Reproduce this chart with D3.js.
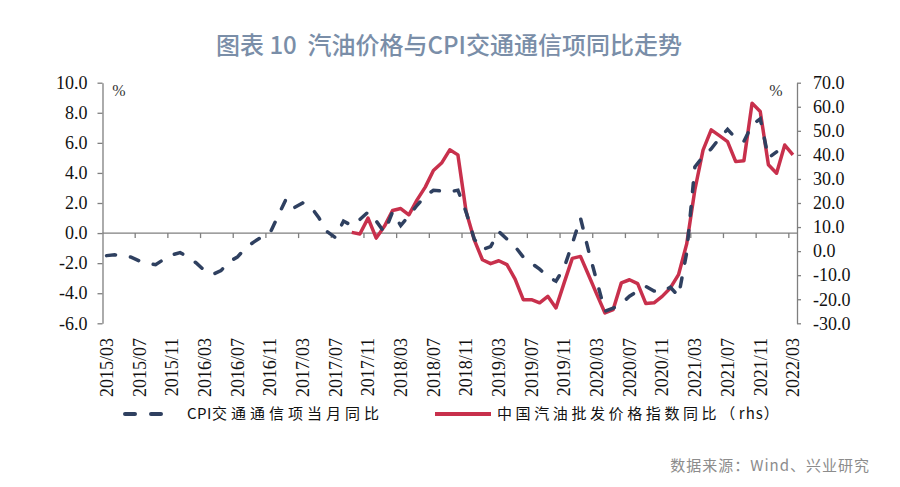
<!DOCTYPE html>
<html>
<head>
<meta charset="utf-8">
<script src="https://cdn.jsdelivr.net/npm/d3@7"></script>
<style>
  body { margin: 0; background: #fff; }
  svg { display: block; }
</style>
</head>
<body>
<svg id="chart" width="900" height="487"></svg>
<script>
// 图表10 汽油价格与CPI交通通信项同比走势

// x轴月份（每4个月一个标签）
const firstMonth = "2015/03";
const lastMonth = "2022/03";
const tickLabels = ["2015/03","2015/07","2015/11","2016/03","2016/07","2016/11",
  "2017/03","2017/07","2017/11","2018/03","2018/07","2018/11",
  "2019/03","2019/07","2019/11","2020/03","2020/07","2020/11",
  "2021/03","2021/07","2021/11","2022/03"];

// CPI交通通信项当月同比（%，左轴），从2015/03开始
const cpi = [-1.5,-1.45,-1.5,-1.6,-1.85,-2.0,-2.1,-1.75,-1.45,-1.3,
  -1.6,-2.0,-2.5,-2.75,-2.5,-1.9,-1.6,-1.0,-0.6,-0.25,
  0.0,1.15,2.3,1.7,2.0,1.75,1.0,0.1,-0.3,0.8,
  0.5,0.9,1.4,0.8,0.05,1.4,0.5,1.15,1.85,2.45,
  2.85,2.8,2.75,2.85,1.4,-0.4,-1.1,-0.9,0.1,-0.4,
  -0.9,-1.6,-2.0,-2.4,-2.9,-3.2,-2.3,-0.7,1.0,-1.2,
  -3.2,-5.2,-5.0,-4.7,-4.2,-3.85,-3.55,-3.85,-3.9,-3.6,
  -4.2,-1.3,4.4,5.1,5.6,6.3,6.9,6.3,6.1,7.2,
  7.6,5.0,5.4];

// 中国汽油批发价格指数同比（%，右轴），从2017/09开始
const gasStart = "2017/09";
const gas = [7.8,7.1,13.7,5.4,10.3,16.9,17.7,15.1,21.3,26.6,
  33.5,36.6,42.1,40.0,16.5,4.7,-3.6,-5.2,-4.0,-5.6,
  -11.6,-20.2,-20.2,-21.5,-18.8,-23.6,-13.2,-3.0,-2.2,-10.0,
  -18.0,-25.7,-24.3,-13.2,-11.9,-13.5,-21.8,-21.5,-18.8,-15.3,
  -9.8,3.0,25.5,42.0,50.4,48.0,45.5,37.2,37.6,61.5,
  58.0,35.9,32.4,44.1,40.0];

const leftTicks = [10, 8, 6, 4, 2, 0, -2, -4, -6];
const rightTicks = [70, 60, 50, 40, 30, 20, 10, 0, -10, -20, -30];

// 图例文字（拉丁部分与中文部分分开，便于控制字距）
const legendCpi = [["CPI", 0.5], ["交通通信项当月同比", 4]];
const legendGas = [["中国汽油批发价格指数同比（", 3.6], ["rhs", 1], ["）", 0]];

// ---- 月份序列
const parseM = d3.timeParse("%Y/%m");
const fmtM = d3.timeFormat("%Y/%m");
const months = d3.timeMonth
  .range(parseM(firstMonth), d3.timeMonth.offset(parseM(lastMonth), 1))
  .map(fmtM);

const cpiData = cpi.map((v, i) => ({ m: months[i], v }));
const gasOffset = months.indexOf(gasStart);
const gasData = gas.map((v, i) => ({ m: months[gasOffset + i], v }));

const svg = d3.select("#chart");
const serif = "'Liberation Serif','Times New Roman',serif";
const cjk = "'Noto Sans CJK SC','Noto Sans',sans-serif";
const axisColor = "#7f7f7f";
const navy = "#2f4060";
const red = "#c8304c";

const x = d3.scaleBand().domain(months).range([102.5, 797]).padding(0);
const xc = m => x(m) + x.bandwidth() / 2;
const yL = d3.scaleLinear().domain([-6, 10]).range([323.3, 82.7]);
const yR = d3.scaleLinear().domain([-30, 70]).range([323.3, 82.7]);

// 标题
svg.append("text")
  .attr("x", 449).attr("y", 54)
  .attr("text-anchor", "middle")
  .style("font-family", cjk)
  .style("font-size", "24px")
  .style("font-weight", 500)
  .style("white-space", "pre")
  .attr("fill", "#7a8ea8")
  .text("图表 10  汽油价格与CPI交通通信项同比走势");

// 左轴
const gL = svg.append("g")
  .attr("transform", "translate(102.5,0)")
  .call(d3.axisLeft(yL).tickValues(leftTicks).tickSize(5).tickSizeOuter(0)
    .tickPadding(10).tickFormat(d => d.toFixed(1)));

// 右轴
const gR = svg.append("g")
  .attr("transform", "translate(797,0)")
  .call(d3.axisRight(yR).tickValues(rightTicks).tickSize(4).tickSizeOuter(0)
    .tickPadding(12).tickFormat(d => d.toFixed(1)));

[gL, gR].forEach(g => {
  g.select(".domain").attr("stroke", axisColor).attr("stroke-width", 1.3);
  g.selectAll(".tick line").attr("stroke", axisColor).attr("stroke-width", 1.3);
  g.selectAll(".tick text")
    .attr("fill", "#111")
    .style("font-family", serif)
    .style("font-size", "18px");
});

// x轴（位于左轴0处）
const y0 = yL(0);
const gX = svg.append("g");
gX.append("line")
  .attr("x1", 102.5).attr("x2", 797)
  .attr("y1", y0).attr("y2", y0)
  .attr("stroke", axisColor).attr("stroke-width", 1.3);

const tickMonths = months.filter((m, i) => i > 0 && i % 4 === 0);
gX.selectAll("line.tk")
  .data(tickMonths)
  .enter().append("line")
  .attr("class", "tk")
  .attr("x1", d => x(d)).attr("x2", d => x(d))
  .attr("y1", y0).attr("y2", y0 + 5)
  .attr("stroke", axisColor).attr("stroke-width", 1.3);

svg.append("g").selectAll("text")
  .data(tickLabels)
  .enter().append("text")
  .attr("transform", d => `translate(${xc(d)},338) rotate(-90)`)
  .attr("text-anchor", "end")
  .attr("dy", "0.35em")
  .attr("fill", "#111")
  .style("font-family", serif)
  .style("font-size", "18px")
  .text(d => d);

// 单位
svg.append("text").attr("x", 119).attr("y", 96).attr("text-anchor", "middle")
  .style("font-family", serif).style("font-size", "16px").attr("fill", "#333").text("%");
svg.append("text").attr("x", 776).attr("y", 96).attr("text-anchor", "middle")
  .style("font-family", serif).style("font-size", "16px").attr("fill", "#333").text("%");

// 折线
const lineL = d3.line().x(d => xc(d.m)).y(d => yL(d.v));
const lineR = d3.line().x(d => xc(d.m)).y(d => yR(d.v));

svg.append("path")
  .attr("d", lineR(gasData))
  .attr("fill", "none")
  .attr("stroke", red)
  .attr("stroke-width", 3.5)
  .attr("stroke-linejoin", "round");

svg.append("path")
  .attr("d", lineL(cpiData))
  .attr("fill", "none")
  .attr("stroke", navy)
  .attr("stroke-width", 3.5)
  .attr("stroke-linecap", "round")
  .attr("stroke-dasharray", "9,15");

// 图例
const leg = svg.append("g");
function legendText(parts, x0) {
  const t = leg.append("text")
    .attr("x", x0).attr("y", 419)
    .style("font-family", cjk).style("font-size", "15px")
    .attr("fill", "#111");
  parts.forEach(([s, ls]) => {
    t.append("tspan").style("letter-spacing", ls + "px").text(s);
  });
}
leg.append("line")
  .attr("x1", 125).attr("x2", 167).attr("y1", 414).attr("y2", 414)
  .attr("stroke", navy).attr("stroke-width", 4)
  .attr("stroke-linecap", "round").attr("stroke-dasharray", "10,16");
legendText(legendCpi, 187);
leg.append("line")
  .attr("x1", 435).attr("x2", 491).attr("y1", 414).attr("y2", 414)
  .attr("stroke", red).attr("stroke-width", 4);
legendText(legendGas, 497);

// 数据来源
svg.append("text")
  .attr("x", 870).attr("y", 471)
  .attr("text-anchor", "end")
  .style("font-family", cjk).style("font-size", "15px")
  .style("letter-spacing", "1px")
  .attr("fill", "#8c8c8c")
  .text("数据来源：Wind、兴业研究");
</script>
</body>
</html>
